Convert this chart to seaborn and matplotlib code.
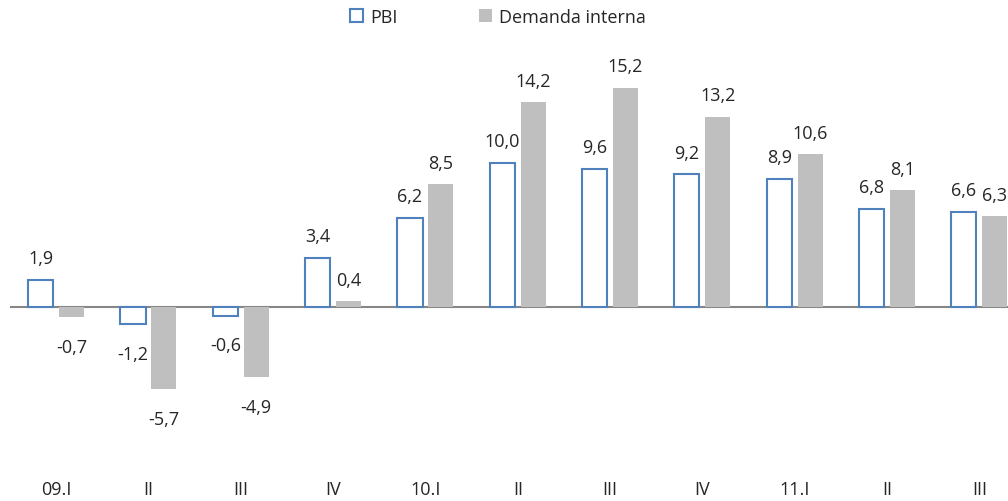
import pandas as pd
import seaborn as sns
import matplotlib.pyplot as plt
from matplotlib.patches import Patch

trimestres = ["09.I", "II", "III", "IV", "10.I", "II ", "III ", "IV ", "11.I", "II  ", "III  "]
pbi = [1.9, -1.2, -0.6, 3.4, 6.2, 10.0, 9.6, 9.2, 8.9, 6.8, 6.6]
demanda = [-0.7, -5.7, -4.9, 0.4, 8.5, 14.2, 15.2, 13.2, 10.6, 8.1, 6.3]

df = pd.DataFrame({
    "trim": trimestres * 2,
    "valor": pbi + demanda,
    "serie": ["PBI"] * len(pbi) + ["Demanda interna"] * len(demanda),
})

sns.set_style("white")
plt.rcParams["font.family"] = ["Open Sans", "DejaVu Sans"]

fig = plt.figure(figsize=(10.08, 5.02), dpi=100)
ax = fig.add_axes([10 / 1008, 1 - 475 / 502, 998 / 1008, 435 / 502])

sns.barplot(data=df, x="trim", y="valor", hue="serie", order=trimestres,
            hue_order=["PBI", "Demanda interna"], width=0.67, gap=0.19,
            palette=["white", "#BFBFBF"], ax=ax, legend=False)

blue = "#4F81BD"
for bar in ax.containers[0]:
    bar.set_facecolor("white")
    bar.set_edgecolor(blue)
    bar.set_linewidth(1.5)
for bar in ax.containers[1]:
    bar.set_facecolor("#BFBFBF")
    bar.set_edgecolor("none")

# etiquetas con coma decimal
for cont, vals in zip(ax.containers, [pbi, demanda]):
    for bar, v in zip(cont, vals):
        xc = bar.get_x() + bar.get_width() / 2
        txt = f"{v:.1f}".replace(".", ",")
        if v >= 0:
            ax.annotate(txt, (xc, v), xytext=(0, 9), textcoords="offset points",
                        ha="center", va="bottom", fontsize=13)
        else:
            ax.annotate(txt, (xc, v), xytext=(0, -15), textcoords="offset points",
                        ha="center", va="top", fontsize=13)

ax.axhline(0, color="#868686", lw=1.5, zorder=0)
ax.set_xlim(-0.5, 10.31)
ax.set_ylim(-11.6, 18.6)
ax.set_xlabel("")
ax.set_ylabel("")
ax.set_yticks([])
ax.set_xticklabels([t.strip() for t in trimestres], fontsize=13)
ax.tick_params(axis="x", length=0, pad=4)
sns.despine(ax=ax, left=True, bottom=True)

handles = [Patch(facecolor="white", edgecolor=blue, linewidth=1.5, label="PBI"),
           Patch(facecolor="#BFBFBF", edgecolor="none", label="Demanda interna")]
fig.legend(handles=handles, loc="center", bbox_to_anchor=(498 / 1008, 1 - 18 / 502),
           ncol=2, frameon=False, fontsize=13, handlelength=0.7, handleheight=0.7,
           handletextpad=0.4, columnspacing=4.5)

fig.savefig("out.png", dpi=100)
